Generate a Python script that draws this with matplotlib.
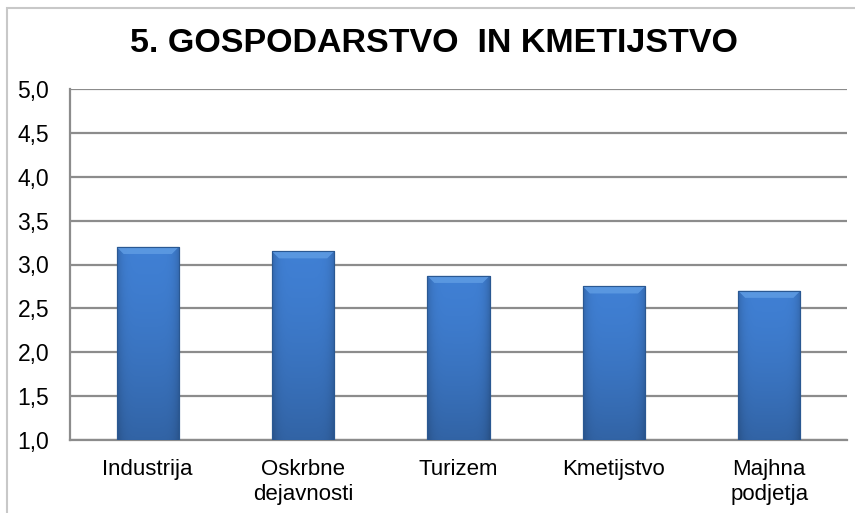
import numpy as np
import matplotlib.pyplot as plt
from matplotlib.patches import Rectangle, Polygon

categories = ['Industrija', 'Oskrbne\ndejavnosti', 'Turizem', 'Kmetijstvo', 'Majhna\npodjetja']
values = [3.20, 3.15, 2.87, 2.75, 2.70]
yticks = [1.0, 1.5, 2.0, 2.5, 3.0, 3.5, 4.0, 4.5, 5.0]
ytick_labels = ['1,0', '1,5', '2,0', '2,5', '3,0', '3,5', '4,0', '4,5', '5,0']
title = '5. GOSPODARSTVO  IN KMETIJSTVO'

plt.rcParams['font.family'] = ['Liberation Sans', 'DejaVu Sans']

W, H = 855, 513
fig = plt.figure(figsize=(W / 100, H / 100), dpi=100)
ax = fig.add_axes([70 / W, (H - 440) / H, 777 / W, 351 / H])

# outer chart frame (runs off the right and bottom edge)
fig.patches.append(Rectangle((7 / W, -0.1), 1.2, (H - 8) / H + 0.1,
                             transform=fig.transFigure, fill=False,
                             edgecolor='#c8c8c8', linewidth=1.5))

x = np.arange(len(categories))
width = 0.40
bars = ax.bar(x, values, width=width, bottom=0, color='#3b76c4',
              edgecolor='#24528f', linewidth=0.8, zorder=3)

# vertical shading + bevelled top for each bar
grad = np.linspace(0, 1, 256).reshape(-1, 1)
cols = np.linspace(0, 1, 64).reshape(1, -1)
for b, v in zip(bars, values):
    x0 = b.get_x()
    x1 = x0 + b.get_width()
    shade = 1 - 0.22 * grad ** 1.5  # darker towards bottom
    side = 1 - 0.18 * (np.abs(cols - 0.5) * 2) ** 6
    base = np.array([0.25, 0.50, 0.83])
    img = base[None, None, :] * (shade * side)[:, :, None]
    img = np.clip(img, 0, 1)
    im = ax.imshow(img, extent=[x0, x1, 1.0, v], origin='upper',
                   aspect='auto', zorder=3.5, interpolation='bilinear')
    im.set_clip_path(b)
    bev = 0.045
    dy = 0.08
    ax.add_patch(Polygon([[x0, v], [x1, v], [x1 - bev, v - dy], [x0 + bev, v - dy]],
                         closed=True, facecolor='#5d9ae2', edgecolor='none',
                         alpha=0.9, zorder=4))
    ax.add_patch(Rectangle((x0, 1.0), b.get_width(), v - 1.0, fill=False,
                           edgecolor='#2a5892', linewidth=0.8, zorder=4.5))

ax.set_xlim(-0.5, len(categories) - 0.5)
ax.set_ylim(1.0, 5.0)
ax.set_yticks(yticks)
ax.set_yticklabels(ytick_labels, fontsize=16.5)
ax.set_xticks(x)
ax.set_xticklabels(categories, fontsize=16, linespacing=1.2)
ax.tick_params(axis='both', length=0)
ax.tick_params(axis='y', pad=15)
ax.tick_params(axis='x', pad=14)

ax.yaxis.grid(True, color='#8c8c8c', linewidth=1.6, zorder=0)
ax.set_axisbelow(True)
for s in ['top', 'right']:
    ax.spines[s].set_visible(False)
for s in ['left', 'bottom']:
    ax.spines[s].set_color('#8c8c8c')
    ax.spines[s].set_linewidth(1.6)

fig.text(434 / W, (H - 44) / H, title, ha='center', va='center',
         fontsize=24.5, fontweight='bold')

fig.savefig('out.png', dpi=100)
